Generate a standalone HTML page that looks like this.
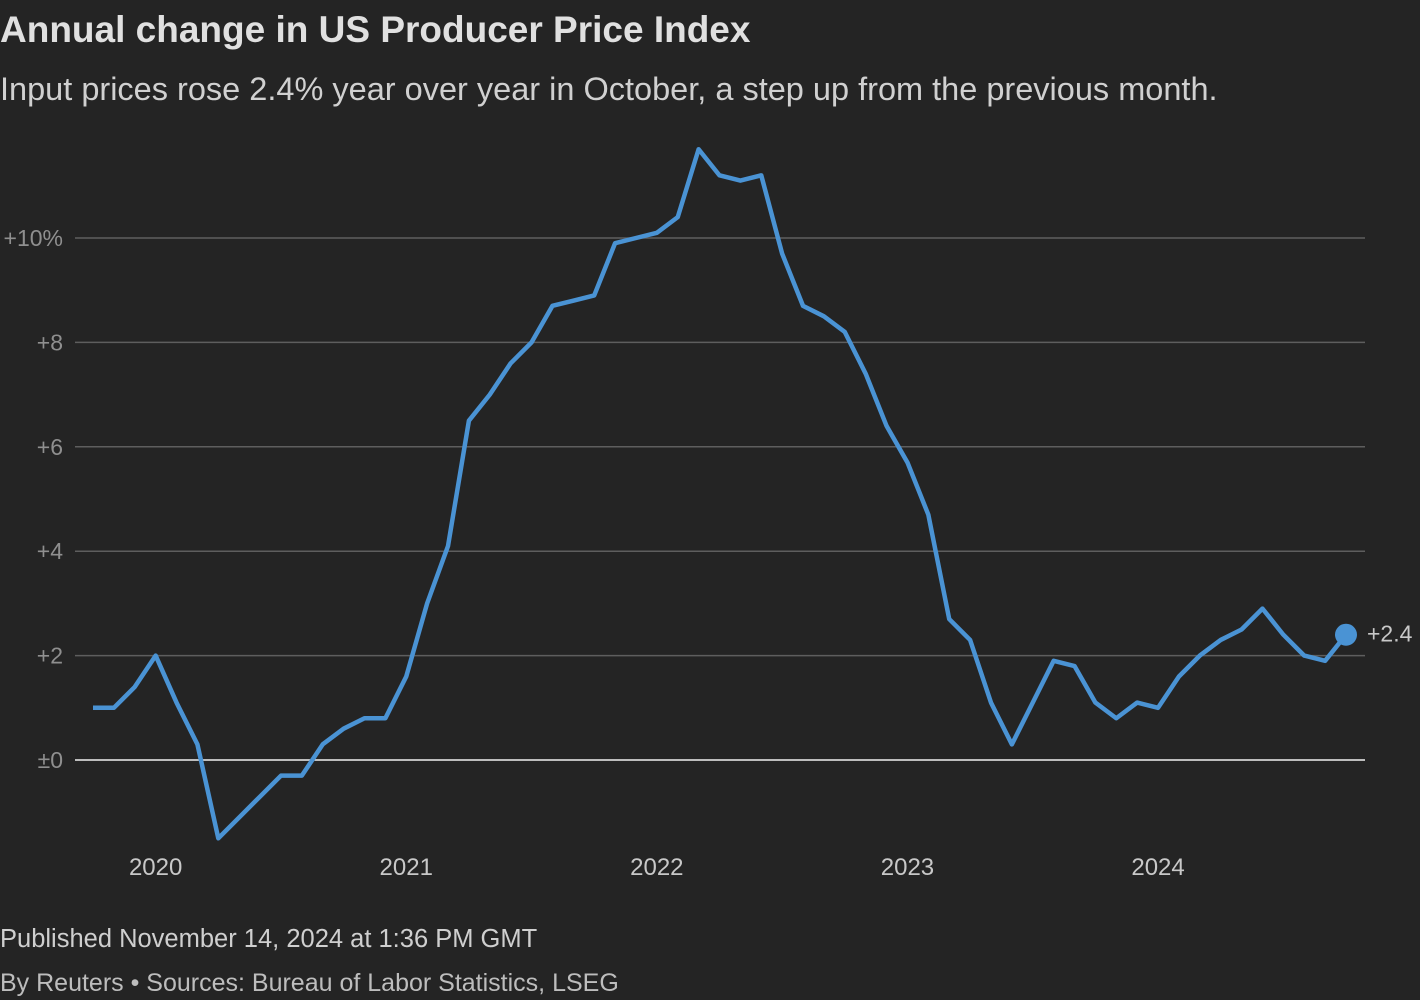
<!DOCTYPE html>
<html><head><meta charset="utf-8"><style>
body{margin:0;background:#242424;width:1420px;height:1000px;overflow:hidden;font-family:"Liberation Sans",sans-serif}
.t{position:absolute;left:0;margin:0;white-space:nowrap}
</style></head><body>
<h1 class="t" style="top:9px;font-size:37px;font-weight:bold;color:#e0e0e0">Annual change in US Producer Price Index</h1>
<p class="t" style="top:71px;font-size:32.5px;color:#d0d0d0">Input prices rose 2.4% year over year in October, a step up from the previous month.</p>
<svg id="c" width="1420" height="1000" style="position:absolute;left:0;top:0"></svg>
<p class="t" style="top:925px;font-size:25.5px;color:#cfcfcf">Published November 14, 2024 at 1:36 PM GMT</p>
<p class="t" style="top:969px;font-size:25px;color:#bdbdbd">By Reuters • Sources: Bureau of Labor Statistics, LSEG</p>
<script>
const values=[1.0,1.0,1.4,2.0,1.1,0.3,-1.5,-1.1,-0.7,-0.3,-0.3,0.3,0.6,0.8,0.8,1.6,3.0,4.1,6.5,7.0,7.6,8.0,8.7,8.8,8.9,9.9,10.0,10.1,10.4,11.7,11.2,11.1,11.2,9.7,8.7,8.5,8.2,7.4,6.4,5.7,4.7,2.7,2.3,1.1,0.3,1.1,1.9,1.8,1.1,0.8,1.1,1.0,1.6,2.0,2.3,2.5,2.9,2.4,2.0,1.9,2.4];
const yTicks=[0,2,4,6,8,10];
const yLabels=["±0","+2","+4","+6","+8","+10%"];
const years=["2020","2021","2022","2023","2024"];
const yearIdx=[3,15,27,39,51];
const NS="http://www.w3.org/2000/svg",svg=document.getElementById('c');
const x=i=>93+i*(1346-93)/60, y=v=>760-v*52.2;
function mk(t,a){const e=document.createElementNS(NS,t);for(const k in a)e.setAttribute(k,a[k]);svg.appendChild(e);return e;}
yTicks.forEach((v,i)=>{
 const l=mk('line',{x1:75,x2:1365,y1:y(v),y2:y(v),stroke:v===0?'#f0f0f0':'#5e5e5e','stroke-width':v===0?1.6:1.5});
 
 
 const t=mk('text',{x:63,y:y(v)+8,'text-anchor':'end',fill:'#8f8f8f','font-size':23,'font-family':'Liberation Sans, sans-serif'});
 t.textContent=yLabels[i];
 
 
});
years.forEach((s,i)=>{
 const t=mk('text',{x:x(yearIdx[i]),y:875,'text-anchor':'middle',fill:'#c8c8c8','font-size':24,'font-family':'Liberation Sans, sans-serif'});
 t.textContent=s;
 
 
});
const p=mk('polyline',{points:values.map((v,i)=>x(i)+','+y(v)).join(' '),fill:'none',stroke:'#4a93d4','stroke-width':4.5,'stroke-linejoin':'round'});


const n=values.length-1;
const d=mk('circle',{cx:x(n),cy:y(values[n]),r:11,fill:'#4a93d4'});


const lt=mk('text',{x:x(n)+21,y:y(values[n])+7,fill:'#c8c8c8','font-size':23,'font-family':'Liberation Sans, sans-serif'});
lt.textContent='+'+values[n];


</script>
</body></html>
